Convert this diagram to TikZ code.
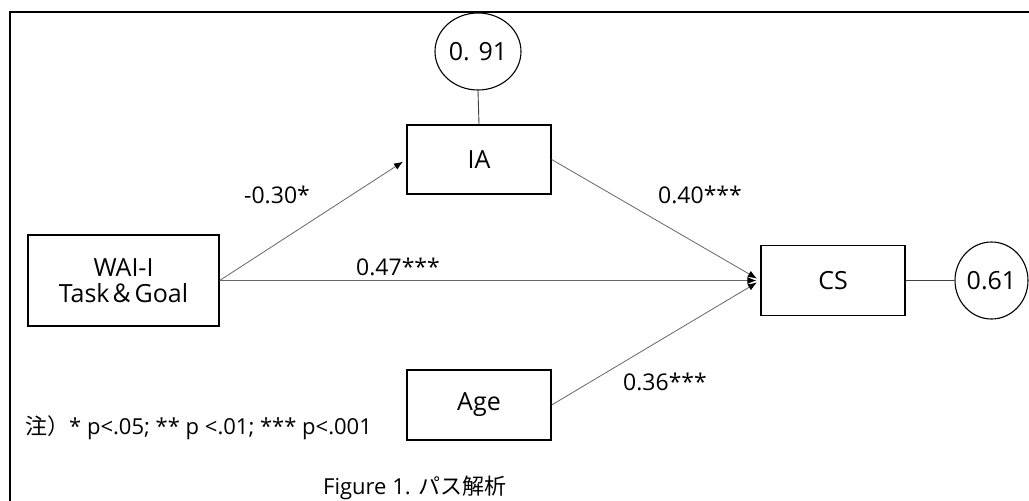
\documentclass[tikz,border=0pt]{standalone}
\usepackage{fontspec}
\setmainfont{Open Sans}
\newfontfamily\cjk{Noto Sans CJK JP}
\usetikzlibrary{shapes.geometric,arrows.meta,calc}
\begin{document}
\begin{tikzpicture}[x=1pt,y=-1pt,
  box/.style={draw=black,line width=1.3pt,rectangle,inner sep=0pt,font=\fontsize{25}{30}\selectfont},
  errc/.style={draw=black,line width=1.1pt,ellipse,inner sep=0pt,font=\fontsize{25}{30}\selectfont},
  coef/.style={inner sep=0pt,font=\fontsize{23}{28}\selectfont},
  path/.style={draw=black!60,line width=0.8pt,-{Latex[length=9pt,width=7pt,color=black]},shorten >=4pt},
  link/.style={draw=black!75,line width=0.9pt},
  note/.style={inner sep=0pt,anchor=west,font=\fontsize{22}{26}\selectfont}]
\useasboundingbox (0,0) rectangle (1029,501);
\fill[white] (0,0) rectangle (1029,501);

% outer frame (top and left edges)
\draw[line width=1.6pt] (10,501) -- (10,12) -- (1029,12);

% variables
\node[box,minimum width=191pt,minimum height=91pt,align=center] (wai) at (123.5,280.5) {WAI-I\\[-4pt]Task{\cjk ＆}Goal};
\node[box,minimum width=144pt,minimum height=69pt] (ia) at (479,159.5) {IA};
\node[box,minimum width=144pt,minimum height=70pt] (cs) at (833,280.5) {CS};
\node[box,minimum width=144pt,minimum height=70pt] (age) at (479,405) {Age};

% residuals
\node[errc,minimum width=86pt,minimum height=77pt] (eia) at (478,51.5) {0. 91};
\node[errc,minimum width=73pt,minimum height=77pt] (ecs) at (991.5,280.5) {0.61};

% paths
\draw[path] (wai.east) -- (ia.west);
\draw[path] (wai.east) -- (cs.west);
\draw[path] (ia.east) -- (cs.west);
\draw[path] (age.east) -- (cs.west);
\draw[link] (eia.south) -- (ia.north);
\draw[link] (cs.east) -- (ecs.west);

% coefficients
\node[coef] (c1) at (277,195) {-0.30*};
\node[coef] (c2) at (398,267) {0.47***};
\node[coef] (c3) at (700,195) {0.40***};
\node[coef] (c4) at (665,382) {0.36***};

% note and caption
\node[note] (nt) at (25,428) {{\cjk 注）}* p<.05; ** p <.01; *** p<.001};
\node[note] (cap) at (323,488) {Figure 1. {\cjk パス解析}};
\end{tikzpicture}
\end{document}
